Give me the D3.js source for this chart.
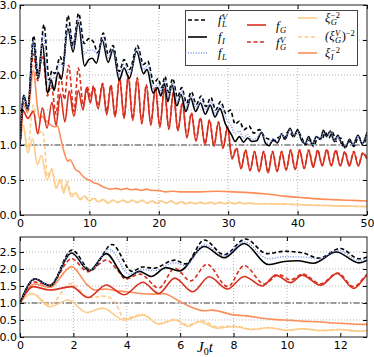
<!DOCTYPE html>
<html>
<head>
<meta charset="utf-8">
<script src="https://cdn.jsdelivr.net/npm/d3@7"></script>
<style>
body { margin: 0; background: #fff; }
svg { display: block; font-family: "DejaVu Sans", sans-serif; }
</style>
</head>
<body>
<div id="chart"></div>
<script>
// values, [J0 t, value]
const fLV = [[0,1.0],[0.56,1.7],[1.12,1.52],[1.95,2.56],[2.65,1.96],[3.45,2.72],[4.2,1.93],[4.6,2.06],[5.0,2.02],[5.8,2.26],[6.2,2.15],[6.9,2.85],[7.65,2.42],[8.45,2.88],[9.25,2.45],[9.9,2.52],[10.6,2.47],[11.2,2.32],[12.0,2.6],[12.7,2.3],[13.4,2.42],[14.3,2.05],[15.0,2.22],[15.8,2.08],[16.9,2.42],[17.8,2.15],[18.4,2.2],[19.3,1.88],[19.9,1.95],[20.4,1.82],[20.9,1.98],[21.4,1.75],[22.0,1.95],[22.7,1.68],[23.3,1.82],[24.0,1.6],[24.7,1.76],[25.4,1.58],[26.1,1.7],[26.8,1.55],[27.5,1.68],[28.2,1.5],[28.9,1.62],[29.7,1.45],[30.3,1.5],[31.0,1.3],[31.6,1.34],[32.3,1.22],[33.0,1.27],[33.7,1.17],[34.5,1.22],[35.2,1.12],[35.9,1.08],[36.6,1.06],[37.3,1.11],[38.0,1.09],[38.7,1.2],[39.4,1.12],[40.0,1.2],[40.6,1.1],[41.2,1.0],[41.8,1.08],[42.3,0.98],[42.9,1.1],[43.5,1.08],[44.0,1.18],[44.5,1.1],[45.0,1.18],[45.6,1.05],[46.2,1.1],[46.8,0.96],[47.5,1.05],[48.1,0.98],[48.8,1.12],[49.4,1.0],[50,1.15]];

const fI = [[0,1.0],[0.56,1.71],[1.12,1.5],[1.93,2.47],[2.59,1.95],[3.23,2.45],[3.98,1.74],[4.48,1.93],[4.91,1.78],[5.47,2.04],[5.97,1.94],[6.9,2.66],[7.65,2.33],[8.4,2.75],[9.3,2.13],[9.9,2.22],[10.4,2.24],[11.0,2.17],[11.85,2.5],[12.7,2.18],[13.4,2.36],[14.3,1.93],[15.0,2.1],[15.75,1.95],[16.8,2.34],[17.8,2.02],[18.3,2.08],[19.2,1.74],[19.8,1.82],[20.3,1.7],[20.8,1.88],[21.3,1.62],[21.9,1.86],[22.6,1.56],[23.2,1.72],[23.9,1.48],[24.6,1.67],[25.3,1.48],[26.0,1.6],[26.7,1.44],[27.4,1.57],[28.1,1.4],[28.8,1.52],[29.6,1.3],[30.5,1.14],[31.0,1.05],[31.6,1.12],[32.2,1.04],[32.8,1.1],[33.4,1.05],[34.1,1.06],[34.8,1.18],[35.4,1.02],[35.9,0.99],[36.5,1.08],[37.1,1.03],[37.7,1.16],[38.2,1.08],[38.9,1.24],[39.5,1.12],[40.0,1.22],[40.5,1.08],[41.1,1.02],[41.6,1.12],[42.1,1.0],[42.7,1.12],[43.3,1.08],[43.7,1.21],[44.2,1.12],[44.7,1.2],[45.3,1.05],[45.8,1.14],[46.4,1.0],[46.9,0.97],[47.5,1.08],[48.0,1.0],[48.7,1.14],[49.3,1.02],[50,1.18]];

const fL = [[0,1.0],[0.56,1.7],[1.12,1.51],[1.94,2.5],[2.62,1.96],[3.35,2.58],[4.1,1.85],[4.6,1.98],[5.0,1.95],[5.8,2.18],[6.2,2.1],[6.9,2.72],[7.65,2.38],[8.4,2.8],[9.3,2.3],[9.9,2.36],[10.6,2.35],[11.2,2.3],[11.9,2.55],[12.7,2.25],[13.4,2.38],[14.3,2.0],[15.0,2.16],[15.8,2.02],[16.9,2.38],[17.8,2.08],[18.4,2.14],[19.3,1.8],[19.9,1.88],[20.4,1.76],[20.9,1.93],[21.4,1.68],[22.0,1.9],[22.7,1.62],[23.3,1.77],[24.0,1.54],[24.7,1.71],[25.4,1.53],[26.1,1.64],[26.8,1.5],[27.5,1.62],[28.2,1.45],[28.9,1.57],[29.7,1.38],[30.4,1.28],[31.0,1.16],[31.6,1.2],[32.2,1.1],[32.8,1.15],[33.4,1.08],[34.1,1.1],[34.8,1.18],[35.4,1.05],[35.9,1.02],[36.5,1.09],[37.1,1.05],[37.7,1.16],[38.2,1.09],[38.9,1.22],[39.5,1.12],[40.0,1.2],[40.5,1.09],[41.1,1.02],[41.6,1.1],[42.1,0.99],[42.7,1.11],[43.3,1.08],[43.7,1.19],[44.2,1.11],[44.7,1.19],[45.3,1.05],[45.8,1.12],[46.4,1.0],[46.9,0.97],[47.5,1.07],[48.0,1.0],[48.7,1.13],[49.3,1.02],[50,1.17]];

const fG = [[0,1.0],[0.5,1.48],[1.12,1.38],[1.93,1.48],[2.55,1.16],[3.23,1.53],[3.9,1.24],[4.6,1.61],[5.2,1.28],[5.8,1.73],[6.47,1.33],[7.09,1.77],[7.77,1.41],[8.4,1.78],[9.08,1.5],[9.58,1.82],[10.14,1.6],[10.57,1.82],[11.26,1.52],[11.88,1.87],[12.5,1.43],[13.1,1.85],[13.7,1.4],[14.35,1.95],[15.0,1.38],[15.6,1.98],[16.25,1.35],[16.9,1.95],[17.55,1.3],[18.2,1.85],[18.85,1.28],[19.5,1.82],[20.15,1.25],[20.8,1.8],[21.45,1.22],[22.1,1.75],[22.75,1.2],[23.4,1.6],[24.05,1.1],[24.7,1.45],[25.35,1.05],[26.0,1.38],[26.65,1.0],[27.3,1.35],[27.95,0.98],[28.6,1.32],[29.25,0.95],[29.9,1.25],[30.55,0.8],[31.2,0.95],[31.85,0.66],[32.5,0.92],[33.15,0.63],[33.8,0.9],[34.45,0.62],[35.1,0.9],[35.75,0.6],[36.4,0.9],[37.05,0.62],[37.7,0.9],[38.35,0.64],[39.0,0.92],[39.65,0.65],[40.3,0.92],[40.95,0.66],[41.6,0.92],[42.25,0.68],[42.9,0.92],[43.55,0.7],[44.2,0.93],[44.85,0.7],[45.5,0.92],[46.15,0.7],[46.8,0.9],[47.45,0.7],[48.1,0.9],[48.75,0.7],[49.4,0.88],[50,0.8]];

const fGV = [[0,1.0],[0.5,1.62],[1.12,1.53],[1.93,2.3],[2.55,1.92],[3.23,2.26],[3.65,1.97],[3.95,1.7],[4.5,1.85],[5.2,1.44],[5.8,2.02],[6.4,1.65],[7.0,2.14],[7.78,1.48],[8.4,2.1],[9.15,1.56],[9.7,1.83],[10.14,1.68],[10.6,1.85],[11.26,1.56],[11.9,1.88],[12.5,1.48],[13.1,1.86],[13.7,1.42],[14.35,1.96],[15.0,1.4],[15.6,1.99],[16.25,1.37],[16.9,1.96],[17.55,1.32],[18.2,1.86],[18.85,1.3],[19.5,1.83],[20.15,1.27],[20.8,1.81],[21.45,1.24],[22.1,1.76],[22.75,1.22],[23.4,1.61],[24.05,1.12],[24.7,1.46],[25.35,1.07],[26.0,1.39],[26.65,1.02],[27.3,1.36],[27.95,1.0],[28.6,1.33],[29.25,0.97],[29.9,1.26],[30.55,0.82],[31.2,0.96],[31.85,0.67],[32.5,0.93],[33.15,0.64],[33.8,0.91],[34.45,0.63],[35.1,0.91],[35.75,0.61],[36.4,0.91],[37.05,0.63],[37.7,0.91],[38.35,0.65],[39.0,0.93],[39.65,0.66],[40.3,0.93],[40.95,0.67],[41.6,0.93],[42.25,0.69],[42.9,0.93],[43.55,0.71],[44.2,0.94],[44.85,0.71],[45.5,0.93],[46.15,0.71],[46.8,0.91],[47.45,0.71],[48.1,0.91],[48.75,0.71],[49.4,0.89],[50,0.81]];

const xiG = [[0,1.0],[0.45,1.28],[1.12,0.89],[1.8,1.09],[2.5,0.72],[3.1,0.85],[3.9,0.5],[4.6,0.65],[5.2,0.38],[5.8,0.5],[6.3,0.31],[6.7,0.45],[7.4,0.26],[8.0,0.31],[8.7,0.22],[9.3,0.27],[10.0,0.2],[10.6,0.24],[11.3,0.19],[12.0,0.22],[12.7,0.17],[13.4,0.21],[14.1,0.18],[14.8,0.21],[15.5,0.18],[16.2,0.21],[16.9,0.18],[17.6,0.21],[18.3,0.17],[19.0,0.2],[19.7,0.17],[20.4,0.2],[21.1,0.17],[21.8,0.2],[22.5,0.16],[23.2,0.19],[23.9,0.16],[24.6,0.18],[25.3,0.16],[26.0,0.18],[26.7,0.16],[27.4,0.18],[28.1,0.16],[28.8,0.18],[29.5,0.16],[30.2,0.18],[30.9,0.16],[31.6,0.18],[32.3,0.16],[33.0,0.17],[34,0.16],[36,0.16],[38,0.155],[40,0.15],[42,0.14],[44,0.135],[46,0.13],[48,0.125],[50,0.12]];

const xiGV = [[0,1.0],[0.45,1.28],[1.12,0.95],[1.9,1.57],[2.6,1.16],[3.2,1.2],[3.6,0.97],[3.9,0.55],[4.6,0.66],[5.2,0.39],[5.8,0.52],[6.3,0.35],[6.8,0.48],[7.4,0.3],[8.0,0.32],[8.7,0.23],[9.3,0.27],[10.0,0.2],[10.6,0.24],[11.3,0.19],[12.0,0.22],[12.7,0.17],[13.4,0.21],[14.1,0.18],[14.8,0.21],[15.5,0.18],[16.2,0.21],[16.9,0.18],[17.6,0.21],[18.3,0.17],[19.0,0.2],[19.7,0.17],[20.4,0.2],[21.1,0.17],[21.8,0.2],[22.5,0.16],[23.2,0.19],[23.9,0.16],[24.6,0.18],[25.3,0.16],[26.0,0.18],[26.7,0.16],[27.4,0.18],[28.1,0.16],[28.8,0.18],[29.5,0.16],[30.2,0.18],[30.9,0.16],[31.6,0.18],[32.3,0.16],[33.0,0.17],[34,0.16],[36,0.16],[38,0.155],[40,0.15],[42,0.14],[44,0.135],[46,0.13],[48,0.125],[50,0.12]];

const xiI = [[0,1.0],[0.55,1.56],[1.12,1.46],[1.93,2.07],[2.5,1.55],[2.8,1.38],[3.2,1.41],[3.6,1.36],[4.0,1.33],[4.5,1.28],[5.0,1.26],[5.4,1.27],[5.9,1.08],[6.3,0.92],[6.9,0.77],[7.2,0.79],[8.0,0.65],[8.5,0.62],[9.0,0.56],[9.6,0.51],[10.2,0.49],[10.6,0.46],[11.1,0.45],[11.8,0.41],[12.3,0.39],[13.0,0.37],[13.9,0.38],[14.6,0.36],[15.3,0.38],[16.0,0.36],[16.7,0.37],[17.5,0.35],[18.2,0.37],[19,0.35],[20,0.35],[21,0.33],[22,0.34],[23,0.33],[24.5,0.33],[26,0.33],[28.4,0.34],[30.8,0.33],[33,0.32],[35.6,0.3],[38,0.27],[40.4,0.25],[43,0.23],[45,0.22],[47.5,0.21],[50,0.2]];

const topXTicks = [0, 10, 20, 30, 40, 50];
const topYTicks = [0, 0.5, 1, 1.5, 2, 2.5, 3];
const botXTicks = [0, 2, 4, 6, 8, 10, 12];
const botYTicks = [0, 0.5, 1, 1.5, 2, 2.5];

const orange1 = "#fdcc8a", orange2 = "#fc8d59", red = "#d7301f", blue = "#6f8fe8";

// drawing order: pale curves first, black on top
const series = [
  {data: xiG,  color: orange1, dash: null,  w: 1.6},
  {data: xiGV, color: orange1, dash: "4,2.5", w: 1.6},
  {data: xiI,  color: orange2, dash: null,  w: 1.6},
  {data: fG,   color: red,     dash: null,  w: 1.6},
  {data: fGV,  color: red,     dash: "4,2.5", w: 1.6},
  {data: fI,   color: "#000",  dash: null,  w: 1.6},
  {data: fLV,  color: "#000",  dash: "4,2.5", w: 1.6},
  {data: fL,   color: blue,    dash: "1,1.6", w: 1.4}
];

const svg = d3.select("#chart").append("svg")
  .attr("width", 374)
  .attr("height", 357);

function drawPanel(o) {
  let x = d3.scaleLinear().domain(o.xd).range([o.left, o.right]);
  let y = d3.scaleLinear().domain(o.yd).range([o.bottom, o.top]);
  let g = svg.append("g");

  g.append("clipPath").attr("id", o.id)
    .append("rect")
    .attr("x", o.left).attr("y", o.top)
    .attr("width", o.right - o.left).attr("height", o.bottom - o.top);

  // dotted grid
  g.selectAll(".gx").data(o.xt.slice(1, -1).filter(d => x(d) < o.right - 1))
    .enter().append("line")
    .attr("x1", d => x(d)).attr("x2", d => x(d))
    .attr("y1", o.top).attr("y2", o.bottom)
    .attr("stroke", "#a0a0a0").attr("stroke-width", 0.8).attr("stroke-dasharray", "1,2");
  g.selectAll(".gy").data(o.yt.filter(d => y(d) > o.top + 1 && y(d) < o.bottom - 1))
    .enter().append("line")
    .attr("x1", o.left).attr("x2", o.right)
    .attr("y1", d => y(d)).attr("y2", d => y(d))
    .attr("stroke", "#a0a0a0").attr("stroke-width", 0.8).attr("stroke-dasharray", "1,2");

  // reference line at 1
  g.append("line")
    .attr("x1", o.left).attr("x2", o.right)
    .attr("y1", y(1)).attr("y2", y(1))
    .attr("stroke", "#808080").attr("stroke-width", 1.3)
    .attr("stroke-dasharray", "6,2,1.5,2");

  let line = d3.line()
    .x(d => x(d[0])).y(d => y(d[1]))
    .curve(d3.curveMonotoneX);

  let lines = g.append("g").attr("clip-path", "url(#" + o.id + ")");
  series.forEach(s => {
    lines.append("path")
      .datum(s.data.filter(d => d[0] <= o.xd[1] + 1.5))
      .attr("d", line)
      .attr("fill", "none")
      .attr("stroke", s.color)
      .attr("stroke-width", s.w)
      .attr("stroke-dasharray", s.dash)
      .attr("stroke-linejoin", "round");
  });

  // axes, ticks pointing inward
  g.append("g")
    .attr("transform", "translate(0," + o.bottom + ")")
    .call(d3.axisBottom(x).tickValues(o.xt).tickSize(-4).tickPadding(4).tickFormat(d3.format("d")))
    .call(a => a.select(".domain").remove())
    .call(a => a.selectAll("text").attr("font-size", 11).attr("font-family", "DejaVu Sans").attr("fill", "#000"));
  g.append("g")
    .attr("transform", "translate(" + o.left + ",0)")
    .call(d3.axisLeft(y).tickValues(o.yt).tickSize(-4).tickPadding(3).tickFormat(d3.format(".1f")))
    .call(a => a.select(".domain").remove())
    .call(a => a.selectAll("text").attr("font-size", 11).attr("font-family", "DejaVu Sans").attr("fill", "#000"));
  g.append("g")
    .attr("transform", "translate(0," + o.top + ")")
    .call(d3.axisTop(x).tickValues(o.xt).tickSize(-4).tickFormat(""))
    .call(a => a.select(".domain").remove());
  g.append("g")
    .attr("transform", "translate(" + o.right + ",0)")
    .call(d3.axisRight(y).tickValues(o.yt).tickSize(-4).tickFormat(""))
    .call(a => a.select(".domain").remove());

  g.append("rect")
    .attr("x", o.left).attr("y", o.top)
    .attr("width", o.right - o.left).attr("height", o.bottom - o.top)
    .attr("fill", "none").attr("stroke", "#222").attr("stroke-width", 1);

  return g;
}

drawPanel({id: "cTop", xd: [0, 50], yd: [0, 3], left: 20, right: 367, top: 5, bottom: 215, xt: topXTicks, yt: topYTicks});
drawPanel({id: "cBot", xd: [0, 13], yd: [0, 2.94], left: 20, right: 367, top: 237, bottom: 337, xt: botXTicks, yt: botYTicks});

// x label
let xl = svg.append("text")
  .attr("x", 197).attr("y", 352)
  .attr("font-family", "Liberation Serif").attr("font-size", 15);
xl.append("tspan").attr("font-style", "italic").text("J");
xl.append("tspan").attr("font-size", 10).attr("dy", 2.5).text("0");
xl.append("tspan").attr("font-style", "italic").attr("dy", -2.5).text("t");

// legend
let leg = svg.append("g");
leg.append("rect")
  .attr("x", 185.5).attr("y", 10.5).attr("width", 172).attr("height", 55)
  .attr("fill", "#fff").attr("stroke", "#444").attr("stroke-width", 1);

const legItems = [
  {s: 6, x: 188, y: 20, lx: 218, ly: 24, base: "f", sub: "L", sup: "V"},
  {s: 5, x: 188, y: 37, lx: 218, ly: 41, base: "f", sub: "I", sup: null},
  {s: 7, x: 188, y: 53, lx: 218, ly: 57, base: "f", sub: "L", sup: null},
  {s: 3, x: 247, y: 25, lx: 276, ly: 30, base: "f", sub: "G", sup: null},
  {s: 4, x: 247, y: 42, lx: 276, ly: 47, base: "f", sub: "G", sup: "V"},
  {s: 0, x: 298, y: 18, lx: 325, ly: 22, base: "\u03be", sub: "G", sup: "\u22122"},
  {s: 1, x: 298, y: 37, lx: 325, ly: 40, base: "(\u03be", sub: "G", sup: "V", tail: ")", tailSup: "\u22122"},
  {s: 2, x: 298, y: 53, lx: 325, ly: 57, base: "\u03be", sub: "I", sup: "\u22122"}
];

const fsBase = 12.5, fsSmall = 8.5;

function measure(str, size, italic) {
  let t = svg.append("text").attr("font-family", "Liberation Serif")
    .attr("font-size", size).attr("font-style", italic ? "italic" : "normal").text(str);
  let w = t.node().getComputedTextLength();
  t.remove();
  return w;
}

legItems.forEach(it => {
  let s = series[it.s];
  leg.append("line")
    .attr("x1", it.x).attr("x2", it.x + 19)
    .attr("y1", it.y).attr("y2", it.y)
    .attr("stroke", s.color).attr("stroke-width", s.w)
    .attr("stroke-dasharray", s.dash);

  let sx = it.lx + measure(it.base, fsBase, true) + 0.5;
  let subW = measure(it.sub, fsSmall, true);
  let supW = it.sup ? measure(it.sup, fsSmall, it.sup === "V") : 0;

  let t = leg.append("text")
    .attr("x", it.lx).attr("y", it.ly)
    .attr("font-family", "Liberation Serif").attr("font-size", fsBase);
  t.append("tspan").attr("font-style", "italic").text(it.base);
  t.append("tspan").attr("x", sx).attr("dy", 2.5)
    .attr("font-size", fsSmall).attr("font-style", "italic").text(it.sub);
  if (it.sup) {
    t.append("tspan").attr("x", sx).attr("dy", -7)
      .attr("font-size", fsSmall).attr("font-style", it.sup === "V" ? "italic" : "normal").text(it.sup);
  }
  if (it.tail) {
    let tx = sx + Math.max(subW, supW) + 0.5;
    t.append("tspan").attr("x", tx).attr("dy", 4.5).text(it.tail);
    t.append("tspan").attr("dy", -4.5).attr("font-size", fsSmall).text(it.tailSup);
  }
});
</script>
</body>
</html>
